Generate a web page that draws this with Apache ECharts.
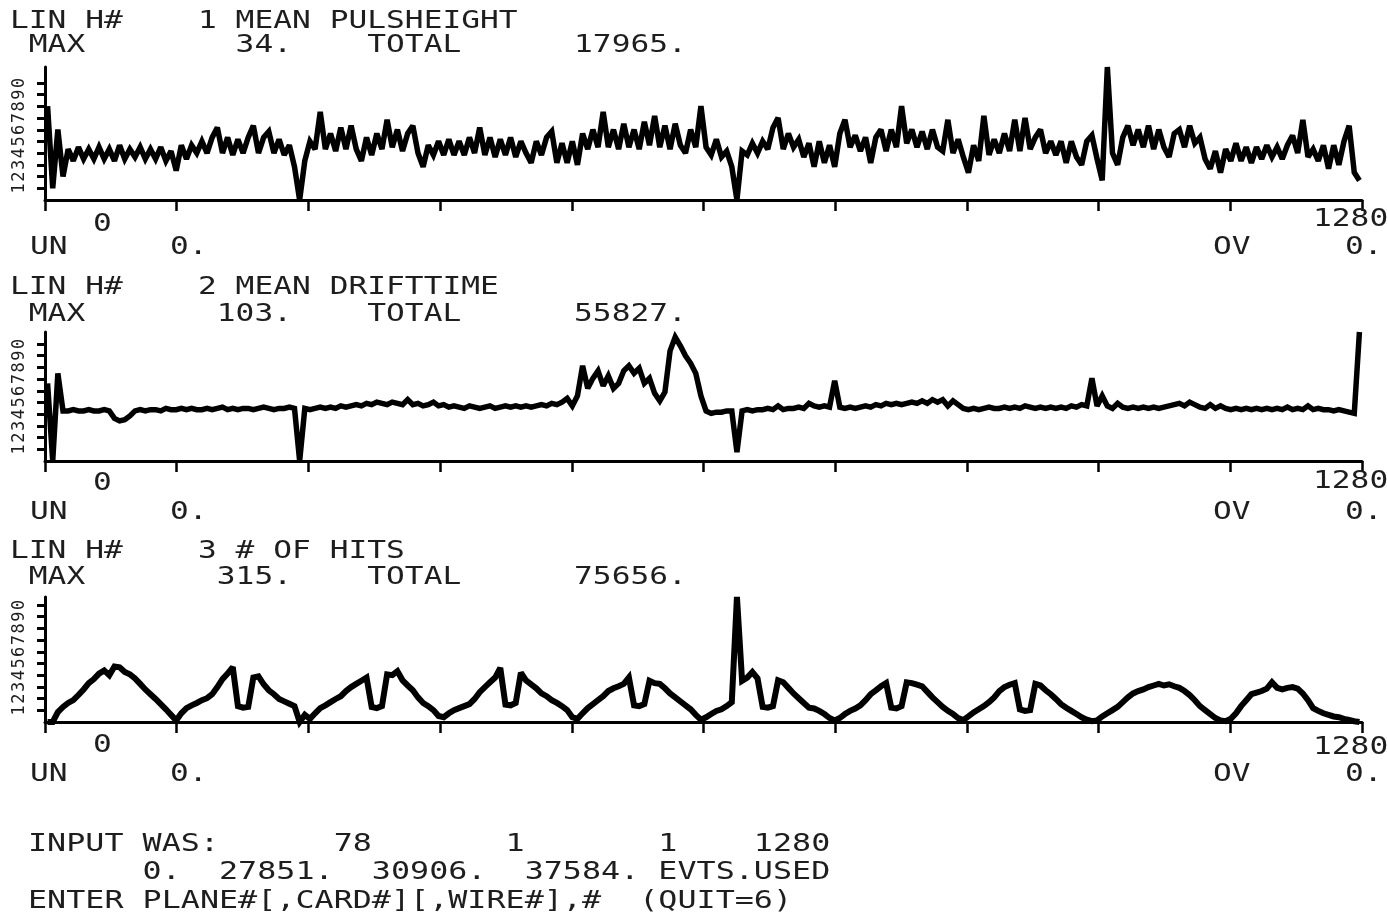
<!DOCTYPE html>
<html>
<head>
<meta charset="utf-8">
<title>LIN H# 1-3</title>
<script src="https://cdn.jsdelivr.net/npm/echarts@6/dist/echarts.min.js"></script>
<style>
  html, body { margin: 0; padding: 0; background: #fff; }
  #chart { width: 1388px; height: 914px; }
</style>
</head>
<body>
<div id="chart"></div>
<script>
// Histogram contents: one value per group of BIN channels, channels 1..1280.
const BIN = 5;
const CHANNELS = 1280;

const pulseHeight = [
  24, 3, 18, 6, 13, 10, 13.5, 10.5, 13, 10.5,
  13.5, 10.5, 13, 10, 14, 10.5, 13, 11, 13.5, 10.5,
  13, 10.5, 13.5, 10, 12.5, 7.5, 14, 10.5, 14, 12,
  15, 12, 16, 18.5, 12, 16, 11.5, 15.5, 12, 16,
  19, 12, 16, 17.5, 12, 15.5, 11.5, 14, 8.5, 0,
  10, 15, 13, 22.5, 13, 17, 12.5, 18.5, 13, 19,
  13, 10, 16, 11.5, 17, 13, 20.5, 13.5, 18, 12.5,
  17, 19, 12, 8.5, 14, 11.5, 15, 11.5, 15.5, 11.5,
  15, 11.5, 16, 12, 18.5, 11.5, 16, 11, 15.5, 11.5,
  16, 11, 15, 12, 9.5, 15, 11.5, 16, 17.5, 9.5,
  14.5, 9.5, 15, 9, 17, 13, 18, 13.5, 22.5, 13.5,
  18, 13, 19.5, 13.5, 18, 13, 20, 14, 21.5, 13.5,
  19, 13, 19.5, 14, 12, 18, 13.5, 24, 13.5, 11.5,
  15.5, 11, 12.5, 8.5, 0, 12.5, 11.5, 14.5, 12, 15,
  13, 18.5, 21, 13, 17, 13.5, 15.5, 11, 14.5, 8.5,
  15, 9.5, 14, 8.5, 17, 20.5, 13.5, 16.5, 12.5, 16,
  9.5, 16, 18, 12.5, 18, 13.5, 24, 14.5, 18, 13.5,
  17.5, 13, 18, 13.5, 12.5, 20.5, 12, 15.5, 11, 7,
  14, 10, 21.5, 11.5, 15.5, 12, 17, 12.5, 20.5, 12.5,
  21, 13, 16, 18, 12, 15, 11.5, 15, 9.5, 15,
  11, 9, 15, 16.5, 10.5, 5, 34, 12, 9, 16,
  19, 14, 18, 13.5, 19, 13, 18, 13.5, 11, 17,
  18, 13.5, 19, 14.5, 16, 10.5, 8, 12.5, 7, 13,
  10, 14.5, 10, 13.5, 9.5, 13.5, 10.5, 14, 11, 13.5,
  10.5, 14, 16.5, 12, 20.5, 11, 13, 10, 14, 8,
  14, 9, 15, 19, 7, 5
];

const driftTime = [
  62, 0, 70, 40, 40, 41, 40, 40, 41, 40,
  40, 41, 40, 34, 32, 33, 36, 40, 41, 40,
  41, 41, 40, 42, 41, 41, 42, 41, 42, 41,
  41, 42, 41, 42, 43, 41, 42, 41, 42, 42,
  41, 42, 43, 42, 41, 42, 42, 43, 42, 0,
  42, 41, 42, 43, 42, 43, 42, 44, 43, 44,
  45, 44, 46, 45, 47, 46, 45, 47, 46, 45,
  49, 45, 46, 44, 45, 47, 44, 45, 43, 44,
  43, 42, 44, 43, 42, 43, 44, 42, 43, 44,
  43, 44, 43, 44, 43, 44, 45, 44, 46, 45,
  47, 50, 44, 52, 76, 58, 66, 72, 60, 68,
  58, 62, 72, 76, 70, 74, 62, 66, 54, 48,
  55, 88, 99, 92, 84, 78, 70, 52, 40, 38,
  39, 39, 40, 40, 7, 40, 41, 40, 41, 41,
  42, 41, 44, 41, 42, 42, 43, 42, 46, 44,
  43, 44, 43, 64, 43, 42, 43, 42, 43, 44,
  43, 45, 44, 46, 45, 46, 45, 46, 47, 46,
  48, 46, 49, 47, 49, 44, 48, 45, 42, 41,
  42, 41, 42, 43, 42, 42, 43, 42, 43, 42,
  44, 43, 42, 43, 42, 43, 42, 43, 42, 44,
  43, 45, 44, 66, 44, 52, 44, 42, 46, 43,
  42, 43, 42, 43, 42, 43, 42, 43, 44, 45,
  46, 44, 47, 45, 43, 42, 45, 42, 44, 42,
  41, 42, 41, 42, 41, 42, 41, 42, 41, 42,
  41, 43, 41, 42, 41, 44, 41, 42, 41, 41,
  40, 41, 40, 39, 38, 103
];

const hits = [
  0, 0, 25, 38, 48, 55, 68, 82, 98, 108,
  122, 130, 118, 140, 138, 126, 120, 110, 96, 82,
  70, 58, 45, 32, 18, 4, 22, 35, 42, 48,
  55, 60, 70, 88, 108, 122, 138, 40, 36, 38,
  112, 115, 95, 80, 70, 58, 52, 46, 40, 0,
  18, 8, 22, 35, 42, 50, 58, 65, 78, 88,
  96, 104, 112, 38, 35, 40, 120, 118, 128, 105,
  92, 80, 62, 48, 40, 30, 15, 12, 22, 30,
  35, 40, 45, 58, 75, 88, 100, 112, 136, 44,
  42, 48, 124, 105, 95, 85, 72, 65, 55, 48,
  40, 30, 12, 8, 22, 35, 45, 55, 65, 78,
  85, 90, 96, 112, 42, 40, 45, 104, 98, 96,
  85, 72, 62, 52, 42, 32, 18, 6, 12, 20,
  28, 32, 40, 50, 315, 104, 112, 126, 110, 38,
  36, 40, 105, 100, 86, 72, 60, 48, 36, 34,
  28, 20, 10, 4, 10, 20, 28, 34, 42, 55,
  70, 80, 90, 98, 36, 34, 40, 100, 98, 94,
  90, 76, 62, 50, 38, 28, 20, 10, 5, 14,
  24, 32, 40, 50, 62, 78, 88, 94, 98, 32,
  28, 30, 96, 92, 80, 70, 58, 45, 36, 28,
  20, 12, 6, 2, 4, 14, 22, 30, 38, 50,
  62, 72, 78, 82, 88, 92, 96, 92, 95, 90,
  86, 78, 68, 55, 40, 30, 20, 10, 4, 2,
  8, 22, 40, 55, 70, 74, 78, 84, 100, 86,
  82, 86, 88, 84, 72, 55, 35, 28, 22, 18,
  14, 12, 8, 5, 2, 0
];

// Header texts and the numbers printed with each histogram
const histNumbers = [1, 2, 3];
const histTitles = ['MEAN PULSHEIGHT', 'MEAN DRIFTTIME', '# OF HITS'];
const maxValues = [34, 103, 315];
const totals = [17965, 55827, 75656];
const underflows = [0, 0, 0];
const overflows = [0, 0, 0];
const yTickLabels = ['1', '2', '3', '4', '5', '6', '7', '8', '9', '0'];
const inputValues = [78, 1, 1, 1280];
const eventCounts = [0, 27851, 30906, 37584];

const series3 = [pulseHeight, driftTime, hits];

// ---- layout ----
const INK = '#1e1e1e';
const FONT = '23px "DejaVu Sans Mono", monospace';
const ADV = 23 * 0.602;          // advance of one mono glyph at 23px
const HEAD_PITCH = 18.8;         // printer pitch of the header lines
const FOOT_PITCH = 19.1;         // printer pitch of the terminal lines
const PLOT_LEFT = 45, PLOT_RIGHT = 26;
const panelTop = [67, 332, 597];
const panelHeight = [133, 129, 125];
const TICK_PX = 11.7;            // spacing of the ten marks on each vertical axis
const lineWidths = [5.5, 5.5, 6];

const titleY = [22, 288, 552];
const maxY = [46, 315, 578];
const zeroY = [225, 484, 746];
const endY = [220, 482, 748];
const unY = [248, 513, 775];

function pad(s, n) { s = String(s); while (s.length < n) s = ' ' + s; return s; }

function txt(str, x, y, pitch) {
  return {
    type: 'text', x: x, y: y, scaleX: (pitch || HEAD_PITCH) / ADV, scaleY: 1.06,
    silent: true, z: 10,
    style: { text: str, font: FONT, fill: INK, textAlign: 'left', textVerticalAlign: 'middle' }
  };
}

const grids = [], xAxes = [], yAxes = [], seriesList = [], texts = [];

for (let k = 0; k < 3; k++) {
  grids.push({ left: PLOT_LEFT, right: PLOT_RIGHT, top: panelTop[k], height: panelHeight[k] });

  xAxes.push({
    type: 'value', gridIndex: k, min: 0, max: CHANNELS, interval: 128,
    axisLine: { show: true, onZero: false, lineStyle: { color: '#000', width: 3 } },
    axisTick: { show: true, inside: false, length: 11, lineStyle: { color: '#000', width: 2.5 } },
    axisLabel: { show: false }, splitLine: { show: false }
  });

  // data scale: full height = MAX of the histogram
  yAxes.push({
    type: 'value', gridIndex: k, min: 0, max: maxValues[k], show: false,
    position: 'left', splitLine: { show: false }
  });
  // printed scale: ten marks, digits 1..9,0 turned on their side
  const marks = yTickLabels.map((_, i) => i + 1);
  yAxes.push({
    type: 'value', gridIndex: k, min: 0, max: panelHeight[k] / TICK_PX, interval: 1,
    position: 'left',
    axisLine: { show: true, lineStyle: { color: '#000', width: 3 } },
    axisTick: { show: true, inside: false, length: 8, customValues: marks,
                lineStyle: { color: '#000', width: 3 } },
    axisLabel: {
      show: true, customValues: marks, rotate: 90, margin: 17,
      formatter: v => (v >= 1 && v <= 10) ? '{d|' + yTickLabels[Math.round(v) - 1] + '}' : '',
      rich: { d: { fontSize: 17, fontFamily: 'DejaVu Sans Mono', color: INK } }
    },
    splitLine: { show: false }
  });

  const vals = series3[k];
  seriesList.push({
    type: 'line', xAxisIndex: k, yAxisIndex: 2 * k,
    data: vals.map((v, i) => [i * BIN + BIN / 2, v]),
    showSymbol: false, symbol: 'none', clip: false, smooth: false,
    lineStyle: { color: '#000', width: lineWidths[k], join: 'miter', miterLimit: 2.5 },
    z: 3
  });

  const head2 = ' MAX' + pad(maxValues[k] + '.', 11) + '    TOTAL' + pad(totals[k] + '.', 12);
  texts.push(txt('LIN H#' + pad(histNumbers[k], 5) + ' ' + histTitles[k], 10, titleY[k]));
  texts.push(txt(head2, 10, maxY[k]));
  texts.push(txt('0', 93, zeroY[k]));
  texts.push(txt(String(CHANNELS), 1313, endY[k]));
  texts.push(txt('UN', 30, unY[k]));
  texts.push(txt(underflows[k] + '.', 170, unY[k]));
  texts.push(txt('OV', 1213, unY[k]));
  texts.push(txt(overflows[k] + '.', 1345, unY[k]));
}

// terminal lines under the plots
const inputLine = 'INPUT WAS:' + inputValues.map(v => pad(v, 8)).join('');
const countLine = eventCounts.map(v => pad(v + '.', 8)).join('') + ' EVTS.USED';
texts.push(txt(inputLine, 28, 845, FOOT_PITCH));
texts.push(txt(countLine, 28, 873, FOOT_PITCH));
texts.push(txt('ENTER PLANE#[,CARD#][,WIRE#],#  (QUIT=6)', 28, 902, FOOT_PITCH));

const chart = echarts.init(document.getElementById('chart'), null, { renderer: 'canvas' });
chart.setOption({
  animation: false,
  backgroundColor: '#fff',
  grid: grids,
  xAxis: xAxes,
  yAxis: yAxes,
  series: seriesList,
  graphic: texts
});
</script>
</body>
</html>
